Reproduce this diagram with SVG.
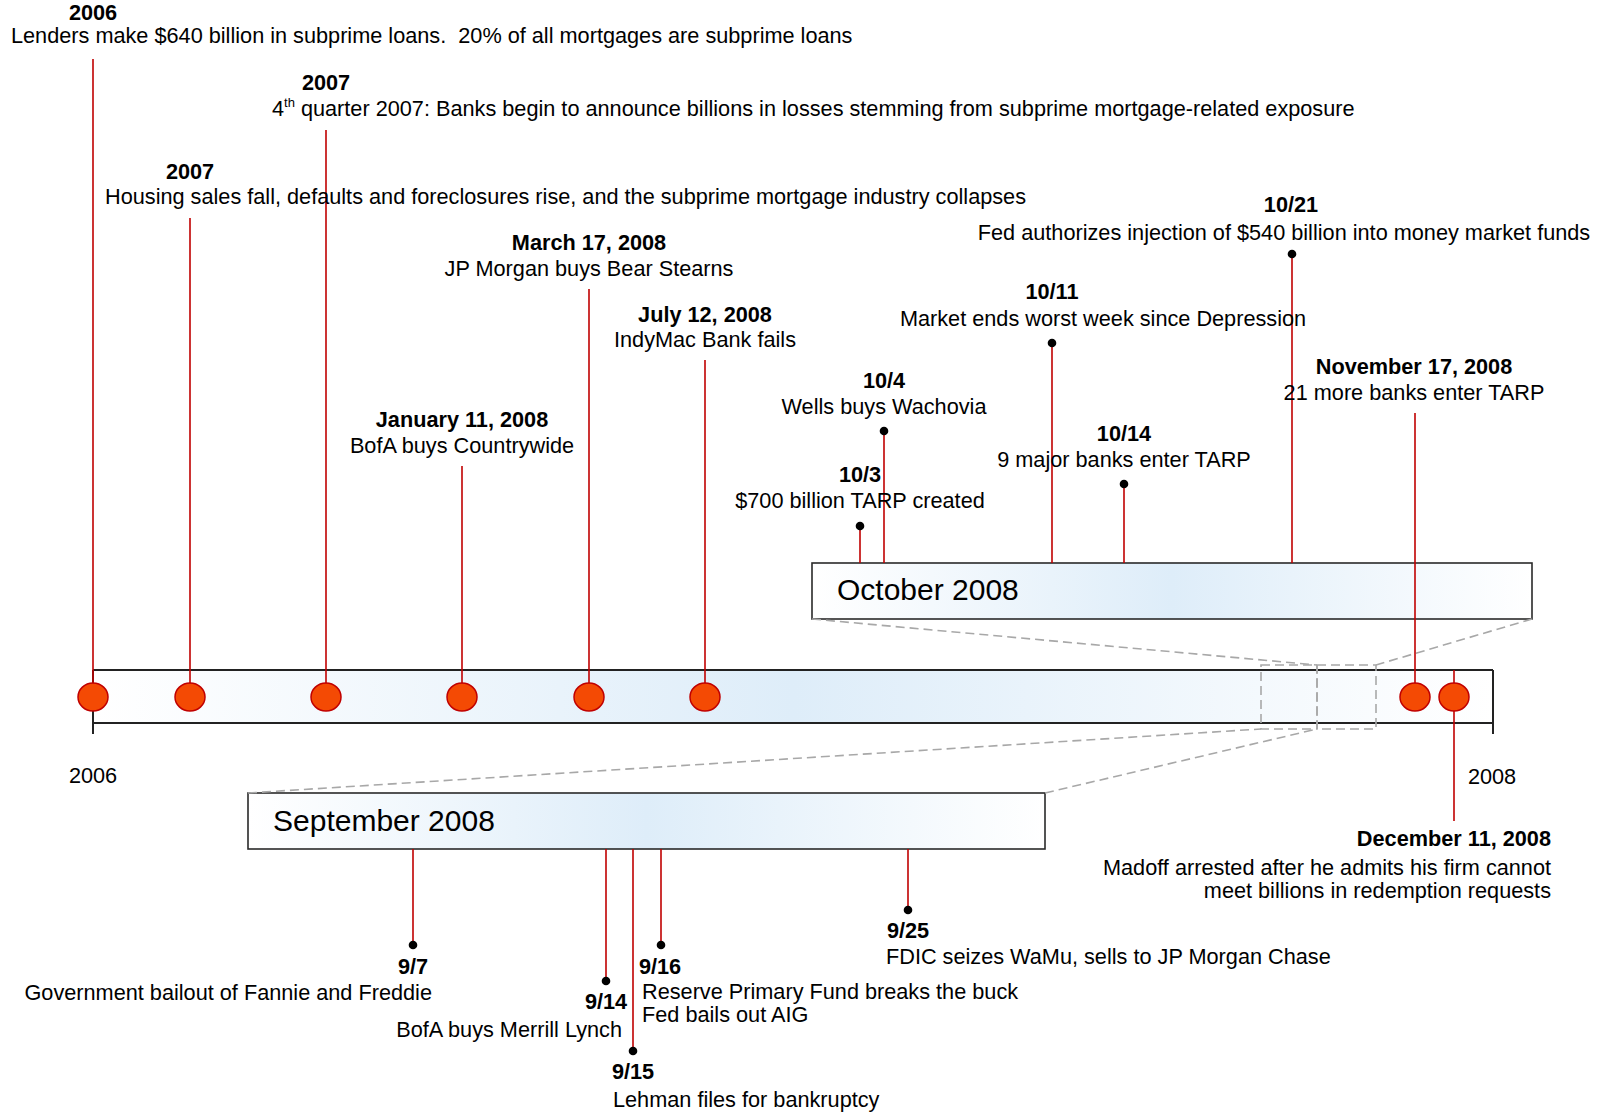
<svg xmlns="http://www.w3.org/2000/svg" width="1602" height="1112" viewBox="0 0 1602 1112">
<style>
text{font-family:"Liberation Sans",Arial,sans-serif;font-size:21.7px;fill:#000;white-space:pre}
.b{font-weight:bold}
.m{text-anchor:middle}
.e{text-anchor:end}
.big{font-size:30px}
.stem{stroke:#c00000;stroke-width:1.6;fill:none}
.dash{stroke:#a8a8a8;stroke-width:1.6;stroke-dasharray:9 5;fill:none}
.box{fill:url(#grad);stroke:#2a2a2a;stroke-width:1.6}
.edge{stroke:#222;stroke-width:2}
.dot{fill:#000}
.ev{fill:#f44a04;stroke:#c00000;stroke-width:1.5}
</style>
<defs>
<linearGradient id="grad" x1="0" y1="0" x2="1" y2="0">
<stop offset="0" stop-color="#ffffff"/>
<stop offset="0.5" stop-color="#deedf9"/>
<stop offset="1" stop-color="#ffffff"/>
</linearGradient>
</defs>
<rect width="1602" height="1112" fill="#fff"/>

<g id="timeline">
<rect x="93" y="670" width="1400" height="53" fill="url(#grad)"/>
<line class="edge" x1="93" y1="670" x2="1493" y2="670"/>
<line class="edge" x1="93" y1="723" x2="1493" y2="723"/>
<line class="edge" x1="93" y1="670" x2="93" y2="734"/>
<line class="edge" x1="1493" y1="670" x2="1493" y2="734"/>
<text class="m" x="93" y="783">2006</text>
<text class="m" x="1492" y="784">2008</text>
</g>

<g id="october-box">
<rect class="box" x="812" y="563" width="720" height="56"/>
<text class="big" x="837" y="600">October 2008</text>
</g>

<g id="september-box">
<rect class="box" x="248" y="793" width="797" height="56"/>
<text class="big" x="273" y="831">September 2008</text>
</g>

<g id="connectors">
<rect class="dash" x="1261" y="665" width="56" height="64"/>
<rect class="dash" x="1317" y="665" width="59" height="64"/>
<line class="dash" x1="812" y1="619" x2="1317" y2="665"/>
<line class="dash" x1="1532" y1="619" x2="1376" y2="665"/>
<line class="dash" x1="248" y1="793" x2="1261" y2="729"/>
<line class="dash" x1="1045" y1="793" x2="1317" y2="729"/>
<line class="stem" x1="93" y1="59" x2="93" y2="684"/>
<line class="stem" x1="190" y1="218" x2="190" y2="684"/>
<line class="stem" x1="326" y1="130" x2="326" y2="684"/>
<line class="stem" x1="462" y1="466" x2="462" y2="684"/>
<line class="stem" x1="589" y1="289" x2="589" y2="684"/>
<line class="stem" x1="705" y1="360" x2="705" y2="684"/>
<line class="stem" x1="1415" y1="413" x2="1415" y2="684"/>
<line class="stem" x1="1454" y1="670" x2="1454" y2="821"/>
<line class="stem" x1="860" y1="526" x2="860" y2="563"/>
<line class="stem" x1="884" y1="431" x2="884" y2="563"/>
<line class="stem" x1="1052" y1="343" x2="1052" y2="563"/>
<line class="stem" x1="1124" y1="484" x2="1124" y2="563"/>
<line class="stem" x1="1292" y1="254" x2="1292" y2="563"/>
<line class="stem" x1="413" y1="849" x2="413" y2="945"/>
<line class="stem" x1="606" y1="849" x2="606" y2="981"/>
<line class="stem" x1="633" y1="849" x2="633" y2="1051"/>
<line class="stem" x1="661" y1="849" x2="661" y2="945"/>
<line class="stem" x1="908" y1="849" x2="908" y2="910"/>
</g>

<g id="ev-2006">
<ellipse class="ev" cx="93" cy="697" rx="15" ry="14"/>
<text class="b m" x="93" y="20">2006</text>
<text x="11" y="43">Lenders make $640 billion in subprime loans.  20% of all mortgages are subprime loans</text>
</g>
<g id="ev-2007-housing">
<ellipse class="ev" cx="190" cy="697" rx="15" ry="14"/>
<text class="b m" x="190" y="179">2007</text>
<text x="105" y="204">Housing sales fall, defaults and foreclosures rise, and the subprime mortgage industry collapses</text>
</g>
<g id="ev-2007-q4">
<ellipse class="ev" cx="326" cy="697" rx="15" ry="14"/>
<text class="b m" x="326" y="90">2007</text>
<text x="272" y="116">4<tspan font-size="13" dy="-9">th</tspan><tspan dy="9"> quarter 2007: Banks begin to announce billions in losses stemming from subprime mortgage-related exposure</tspan></text>
</g>
<g id="ev-jan11">
<ellipse class="ev" cx="462" cy="697" rx="15" ry="14"/>
<text class="b m" x="462" y="427">January 11, 2008</text>
<text class="m" x="462" y="453">BofA buys Countrywide</text>
</g>
<g id="ev-mar17">
<ellipse class="ev" cx="589" cy="697" rx="15" ry="14"/>
<text class="b m" x="589" y="250">March 17, 2008</text>
<text class="m" x="589" y="276">JP Morgan buys Bear Stearns</text>
</g>
<g id="ev-jul12">
<ellipse class="ev" cx="705" cy="697" rx="15" ry="14"/>
<text class="b m" x="705" y="322">July 12, 2008</text>
<text class="m" x="705" y="347">IndyMac Bank fails</text>
</g>
<g id="ev-nov17">
<ellipse class="ev" cx="1415" cy="697" rx="15" ry="14"/>
<text class="b m" x="1414" y="374">November 17, 2008</text>
<text class="m" x="1414" y="400">21 more banks enter TARP</text>
</g>
<g id="ev-dec11">
<ellipse class="ev" cx="1454" cy="697" rx="15" ry="14"/>
<text class="b e" x="1551" y="846">December 11, 2008</text>
<text class="e" x="1551" y="875">Madoff arrested after he admits his firm cannot</text>
<text class="e" x="1551" y="898">meet billions in redemption requests</text>
</g>

<g id="ev-10-3">
<circle class="dot" cx="860" cy="526" r="4.3"/>
<text class="b m" x="860" y="482">10/3</text>
<text class="m" x="860" y="508">$700 billion TARP created</text>
</g>
<g id="ev-10-4">
<circle class="dot" cx="884" cy="431" r="4.3"/>
<text class="b m" x="884" y="388">10/4</text>
<text class="m" x="884" y="414">Wells buys Wachovia</text>
</g>
<g id="ev-10-11">
<circle class="dot" cx="1052" cy="343" r="4.3"/>
<text class="b m" x="1052" y="299">10/11</text>
<text class="m" x="1103" y="326">Market ends worst week since Depression</text>
</g>
<g id="ev-10-14">
<circle class="dot" cx="1124" cy="484" r="4.3"/>
<text class="b m" x="1124" y="441">10/14</text>
<text class="m" x="1124" y="467">9 major banks enter TARP</text>
</g>
<g id="ev-10-21">
<circle class="dot" cx="1292" cy="254" r="4.3"/>
<text class="b m" x="1291" y="212">10/21</text>
<text class="m" x="1284" y="240">Fed authorizes injection of $540 billion into money market funds</text>
</g>

<g id="ev-9-7">
<circle class="dot" cx="413" cy="945" r="4.3"/>
<text class="b m" x="413" y="974">9/7</text>
<text class="e" x="432" y="1000">Government bailout of Fannie and Freddie</text>
</g>
<g id="ev-9-14">
<circle class="dot" cx="606" cy="981" r="4.3"/>
<text class="b m" x="606" y="1009">9/14</text>
<text class="e" x="622" y="1037">BofA buys Merrill Lynch</text>
</g>
<g id="ev-9-15">
<circle class="dot" cx="633" cy="1051" r="4.3"/>
<text class="b m" x="633" y="1079">9/15</text>
<text x="613" y="1107">Lehman files for bankruptcy</text>
</g>
<g id="ev-9-16">
<circle class="dot" cx="661" cy="945" r="4.3"/>
<text class="b m" x="660" y="974">9/16</text>
<text x="642" y="999">Reserve Primary Fund breaks the buck</text>
<text x="642" y="1022">Fed bails out AIG</text>
</g>
<g id="ev-9-25">
<circle class="dot" cx="908" cy="910" r="4.3"/>
<text class="b m" x="908" y="938">9/25</text>
<text x="886" y="964">FDIC seizes WaMu, sells to JP Morgan Chase</text>
</g>
</svg>
